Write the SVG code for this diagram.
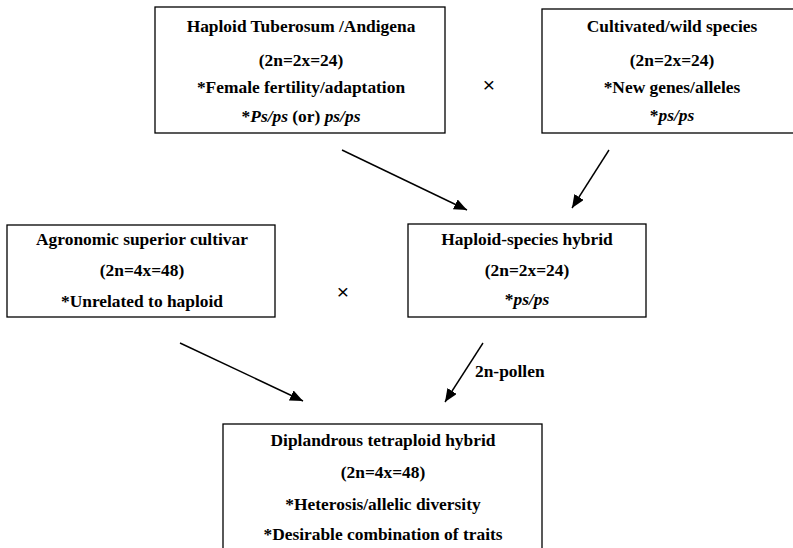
<svg xmlns="http://www.w3.org/2000/svg" width="793" height="548" viewBox="0 0 793 548">
<style>
.box{fill:#fff;stroke:#000;stroke-width:1.3}
.t{font-family:'Liberation Serif','Times New Roman',serif;font-weight:bold;font-size:17.4px;text-anchor:middle;fill:#000}
.i{font-style:italic}
.x{font-family:'Liberation Sans',Arial,sans-serif;font-size:21px;text-anchor:middle;fill:#000}
.c{stroke:#000;stroke-width:1.4;fill:none;marker-end:url(#ah)}
</style>
<defs>
<marker id="ah" viewBox="0 0 13 11" refX="13" refY="5.5" markerWidth="13" markerHeight="11" markerUnits="userSpaceOnUse" orient="auto">
<path d="M0,0 L13,5.5 L0,11 Z" fill="#000"/>
</marker>
</defs>
<rect width="793" height="548" fill="#fff"/>
<g id="n1">
<rect class="box" x="155" y="7" width="290" height="126"/>
<text class="t" style="font-family:'Liberation Serif',serif" x="301" y="32">Haploid Tuberosum /Andigena</text>
<text class="t" style="font-family:'Liberation Serif',serif" x="301" y="66">(2n=2x=24)</text>
<text class="t" style="font-family:'Liberation Serif',serif" x="301" y="93">*Female fertility/adaptation</text>
<text class="t" style="font-family:'Liberation Serif',serif" x="301" y="122">*<tspan class="i">Ps/ps</tspan> (or) <tspan class="i">ps/ps</tspan></text>
</g>
<g id="n2">
<rect class="box" x="542" y="9" width="270" height="124"/>
<text class="t" style="font-family:'Liberation Serif',serif" x="672" y="32">Cultivated/wild species</text>
<text class="t" style="font-family:'Liberation Serif',serif" x="672" y="66">(2n=2x=24)</text>
<text class="t" style="font-family:'Liberation Serif',serif" x="672" y="93">*New genes/alleles</text>
<text class="t" style="font-family:'Liberation Serif',serif" x="672" y="121">*<tspan class="i">ps/ps</tspan></text>
</g>
<g id="n3">
<rect class="box" x="7" y="225" width="268" height="92"/>
<text class="t" style="font-family:'Liberation Serif',serif" x="142" y="245">Agronomic superior cultivar</text>
<text class="t" style="font-family:'Liberation Serif',serif" x="142" y="276">(2n=4x=48)</text>
<text class="t" style="font-family:'Liberation Serif',serif" x="142" y="307">*Unrelated to haploid</text>
</g>
<g id="n4">
<rect class="box" x="408" y="224" width="238" height="93"/>
<text class="t" style="font-family:'Liberation Serif',serif" x="527" y="245">Haploid-species hybrid</text>
<text class="t" style="font-family:'Liberation Serif',serif" x="527" y="276">(2n=2x=24)</text>
<text class="t" style="font-family:'Liberation Serif',serif" x="527" y="305">*<tspan class="i">ps/ps</tspan></text>
</g>
<g id="n5">
<rect class="box" x="223" y="424" width="319" height="140"/>
<text class="t" style="font-family:'Liberation Serif',serif" x="383" y="446">Diplandrous tetraploid hybrid</text>
<text class="t" style="font-family:'Liberation Serif',serif" x="383" y="478">(2n=4x=48)</text>
<text class="t" style="font-family:'Liberation Serif',serif" x="383" y="510">*Heterosis/allelic diversity</text>
<text class="t" style="font-family:'Liberation Serif',serif" x="383" y="540">*Desirable combination of traits</text>
</g>
<g id="crosses">
<text class="x" x="489" y="92">×</text>
<text class="x" x="343" y="299">×</text>
</g>
<g id="connectors">
<line class="c" x1="342" y1="150" x2="467" y2="210"/>
<line class="c" x1="609" y1="150" x2="572" y2="208"/>
<line class="c" x1="180" y1="343" x2="303" y2="401"/>
<line class="c" x1="483" y1="343" x2="445" y2="402"/>
<text class="t" style="font-family:'Liberation Serif',serif;text-anchor:start" x="475" y="377">2n-pollen</text>
</g>
</svg>
